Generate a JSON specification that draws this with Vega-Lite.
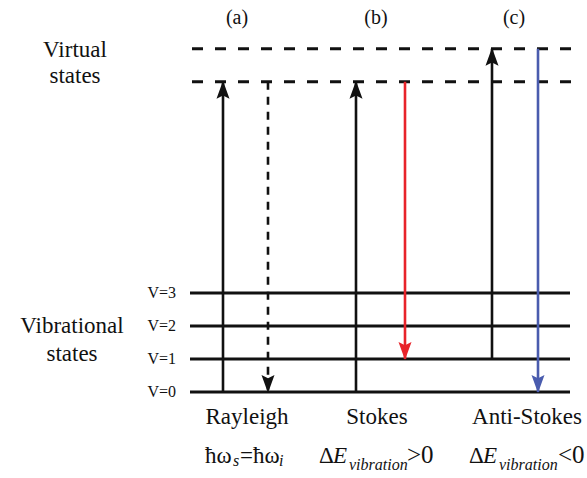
{
  "$schema": "https://vega.github.io/schema/vega-lite/v6.json",
  "width": 587,
  "height": 478,
  "autosize": "none",
  "padding": 0,
  "background": "white",
  "config": {"view": {"stroke": null}},
  "datasets": {
    "levels": [
      {"level": "V=0", "E": 0},
      {"level": "V=1", "E": 1},
      {"level": "V=2", "E": 2},
      {"level": "V=3", "E": 3}
    ],
    "virtual": [
      {"state": "virtual 1", "E": 9.4},
      {"state": "virtual 2", "E": 10.4}
    ],
    "arrows": [
      {"process": "Rayleigh", "kind": "excitation", "dir": "up", "x": 223, "E": 0, "E2": 9.4},
      {"process": "Rayleigh", "kind": "rayleigh", "dir": "down", "x": 268, "E": 9.4, "E2": 0},
      {"process": "Stokes", "kind": "excitation", "dir": "up", "x": 356, "E": 0, "E2": 9.4},
      {"process": "Stokes", "kind": "stokes", "dir": "down", "x": 405, "E": 9.4, "E2": 1},
      {"process": "Anti-Stokes", "kind": "excitation", "dir": "up", "x": 492, "E": 1, "E2": 10.4},
      {"process": "Anti-Stokes", "kind": "antistokes", "dir": "down", "x": 538, "E": 10.4, "E2": 0}
    ],
    "labels": [
      {"text": "(a)", "x": 237, "E": 11.15, "kind": "header"},
      {"text": "(b)", "x": 376, "E": 11.15, "kind": "header"},
      {"text": "(c)", "x": 514, "E": 11.15, "kind": "header"},
      {"text": "Virtual", "x": 75, "E": 10.15, "kind": "title"},
      {"text": "states", "x": 75, "E": 9.36, "kind": "title"},
      {"text": "Vibrational", "x": 72, "E": 1.79, "kind": "title"},
      {"text": "states", "x": 72, "E": 0.94, "kind": "title"},
      {"text": "Rayleigh", "x": 247, "E": -0.97, "kind": "title"},
      {"text": "Stokes", "x": 377, "E": -0.97, "kind": "title"},
      {"text": "Anti-Stokes", "x": 527, "E": -0.97, "kind": "title"},
      {"text": "ħω", "x": 205, "E": -2.15, "kind": "upright"},
      {"text": "s", "x": 233, "E": -2.24, "kind": "sub"},
      {"text": "=ħω", "x": 240, "E": -2.15, "kind": "upright"},
      {"text": "i", "x": 279, "E": -2.24, "kind": "sub"},
      {"text": "Δ", "x": 319, "E": -2.15, "kind": "upright"},
      {"text": "E", "x": 333, "E": -2.15, "kind": "italic"},
      {"text": "vibration", "x": 349, "E": -2.36, "kind": "sub"},
      {"text": ">0", "x": 407, "E": -2.15, "kind": "relation"},
      {"text": "Δ", "x": 469, "E": -2.15, "kind": "upright"},
      {"text": "E", "x": 483, "E": -2.15, "kind": "italic"},
      {"text": "vibration", "x": 499, "E": -2.36, "kind": "sub"},
      {"text": "<0", "x": 558, "E": -2.15, "kind": "relation"}
    ]
  },
  "layer": [
    {
      "data": {"name": "levels"},
      "mark": {"type": "rule", "strokeWidth": 3, "color": "#111"},
      "encoding": {
        "x": {"datum": 190, "type": "quantitative", "scale": {"domain": [0, 587], "nice": false, "zero": false}, "axis": null},
        "x2": {"datum": 570},
        "y": {"field": "E", "type": "quantitative", "scale": {"domain": [-2.606, 11.879], "nice": false, "zero": false}, "axis": null}
      }
    },
    {
      "data": {"name": "levels"},
      "mark": {"type": "text", "align": "right", "baseline": "middle", "fontSize": 16, "font": "'Liberation Serif', 'DejaVu Serif', serif", "color": "#111"},
      "encoding": {
        "x": {"datum": 176, "type": "quantitative", "scale": {"domain": [0, 587], "nice": false, "zero": false}, "axis": null},
        "y": {"field": "E", "type": "quantitative", "scale": {"domain": [-2.606, 11.879], "nice": false, "zero": false}, "axis": null},
        "text": {"field": "level"}
      }
    },
    {
      "data": {"name": "virtual"},
      "mark": {"type": "rule", "strokeWidth": 3, "color": "#111", "strokeDash": [11, 12], "strokeDashOffset": -2},
      "encoding": {
        "x": {"datum": 190, "type": "quantitative", "scale": {"domain": [0, 587], "nice": false, "zero": false}, "axis": null},
        "x2": {"datum": 571},
        "y": {"field": "E", "type": "quantitative", "scale": {"domain": [-2.606, 11.879], "nice": false, "zero": false}, "axis": null}
      }
    },
    {
      "data": {"name": "arrows"},
      "mark": {"type": "rule"},
      "encoding": {
        "x": {"field": "x", "type": "quantitative", "scale": {"domain": [0, 587], "nice": false, "zero": false}, "axis": null},
        "y": {"field": "E", "type": "quantitative", "scale": {"domain": [-2.606, 11.879], "nice": false, "zero": false}, "axis": null},
        "y2": {"field": "E2"},
        "color": {"field": "kind", "type": "nominal", "scale": {"domain": ["excitation", "rayleigh", "stokes", "antistokes"], "range": ["#111111", "#111111", "#e8232a", "#4a5cae"]}, "legend": null},
        "strokeDash": {"field": "kind", "type": "nominal", "scale": {"domain": ["excitation", "rayleigh", "stokes", "antistokes"], "range": [[1, 0], [8, 7], [1, 0], [1, 0]]}, "legend": null},
        "strokeWidth": {"field": "kind", "type": "nominal", "scale": {"domain": ["excitation", "rayleigh", "stokes", "antistokes"], "range": [2.6, 2.6, 2.2, 2.2]}, "legend": null}
      }
    },
    {
      "data": {"name": "arrows"},
      "mark": {"type": "point", "filled": true, "opacity": 1, "size": 169, "strokeWidth": 0},
      "encoding": {
        "x": {"field": "x", "type": "quantitative", "scale": {"domain": [0, 587], "nice": false, "zero": false}, "axis": null},
        "y": {"field": "E2", "type": "quantitative", "scale": {"domain": [-2.606, 11.879], "nice": false, "zero": false}, "axis": null},
        "shape": {"field": "dir", "type": "nominal", "scale": {"domain": ["up", "down"], "range": ["M0,-0.15L-1,2.6L0,2.1L1,2.6Z", "M0,0.15L-1,-2.6L0,-2.1L1,-2.6Z"]}, "legend": null},
        "color": {"field": "kind", "type": "nominal", "legend": null}
      }
    },
    {
      "data": {"name": "labels"},
      "transform": [{"filter": "datum.kind === 'header'"}],
      "mark": {"type": "text", "align": "center", "baseline": "alphabetic", "fontSize": 20, "font": "'Liberation Serif', 'DejaVu Serif', serif", "color": "#111"},
      "encoding": {
        "x": {"field": "x", "type": "quantitative", "scale": {"domain": [0, 587], "nice": false, "zero": false}, "axis": null},
        "y": {"field": "E", "type": "quantitative", "scale": {"domain": [-2.606, 11.879], "nice": false, "zero": false}, "axis": null},
        "text": {"field": "text"}
      }
    },
    {
      "data": {"name": "labels"},
      "transform": [{"filter": "datum.kind === 'title'"}],
      "mark": {"type": "text", "align": "center", "baseline": "alphabetic", "fontSize": 23, "font": "'Liberation Serif', 'DejaVu Serif', serif", "color": "#111"},
      "encoding": {
        "x": {"field": "x", "type": "quantitative", "scale": {"domain": [0, 587], "nice": false, "zero": false}, "axis": null},
        "y": {"field": "E", "type": "quantitative", "scale": {"domain": [-2.606, 11.879], "nice": false, "zero": false}, "axis": null},
        "text": {"field": "text"}
      }
    },
    {
      "data": {"name": "labels"},
      "transform": [{"filter": "datum.kind === 'upright'"}],
      "mark": {"type": "text", "align": "left", "baseline": "alphabetic", "fontSize": 23, "font": "'Liberation Serif', 'DejaVu Serif', serif", "color": "#111"},
      "encoding": {
        "x": {"field": "x", "type": "quantitative", "scale": {"domain": [0, 587], "nice": false, "zero": false}, "axis": null},
        "y": {"field": "E", "type": "quantitative", "scale": {"domain": [-2.606, 11.879], "nice": false, "zero": false}, "axis": null},
        "text": {"field": "text"}
      }
    },
    {
      "data": {"name": "labels"},
      "transform": [{"filter": "datum.kind === 'italic'"}],
      "mark": {"type": "text", "align": "left", "baseline": "alphabetic", "fontSize": 23, "fontStyle": "italic", "font": "'Liberation Serif', 'DejaVu Serif', serif", "color": "#111"},
      "encoding": {
        "x": {"field": "x", "type": "quantitative", "scale": {"domain": [0, 587], "nice": false, "zero": false}, "axis": null},
        "y": {"field": "E", "type": "quantitative", "scale": {"domain": [-2.606, 11.879], "nice": false, "zero": false}, "axis": null},
        "text": {"field": "text"}
      }
    },
    {
      "data": {"name": "labels"},
      "transform": [{"filter": "datum.kind === 'sub'"}],
      "mark": {"type": "text", "align": "left", "baseline": "alphabetic", "fontSize": 16, "fontStyle": "italic", "font": "'Liberation Serif', 'DejaVu Serif', serif", "color": "#111"},
      "encoding": {
        "x": {"field": "x", "type": "quantitative", "scale": {"domain": [0, 587], "nice": false, "zero": false}, "axis": null},
        "y": {"field": "E", "type": "quantitative", "scale": {"domain": [-2.606, 11.879], "nice": false, "zero": false}, "axis": null},
        "text": {"field": "text"}
      }
    },
    {
      "data": {"name": "labels"},
      "transform": [{"filter": "datum.kind === 'relation'"}],
      "mark": {"type": "text", "align": "left", "baseline": "alphabetic", "fontSize": 25, "font": "'Liberation Serif', 'DejaVu Serif', serif", "color": "#111"},
      "encoding": {
        "x": {"field": "x", "type": "quantitative", "scale": {"domain": [0, 587], "nice": false, "zero": false}, "axis": null},
        "y": {"field": "E", "type": "quantitative", "scale": {"domain": [-2.606, 11.879], "nice": false, "zero": false}, "axis": null},
        "text": {"field": "text"}
      }
    }
  ]
}
